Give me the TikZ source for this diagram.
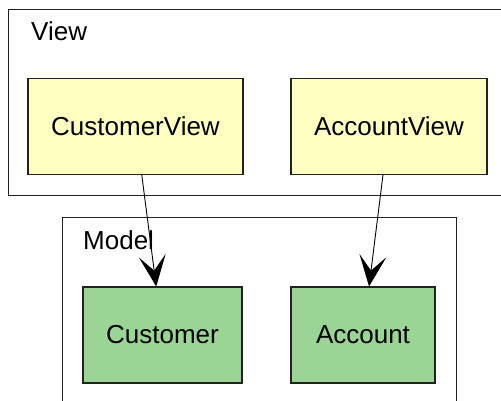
\documentclass[tikz,border=0pt]{standalone}
\usepackage{fontspec}
\setmainfont{Liberation Sans}
\usetikzlibrary{positioning, arrows.meta}

\definecolor{viewfill}{HTML}{FFFFC2}
\definecolor{modelfill}{HTML}{9AD596}
\definecolor{edge}{HTML}{222222}

\begin{document}
\begin{tikzpicture}[x=1pt, y=-1pt, font=\fontsize{26}{31}\selectfont,
    pkg/.style={draw=edge, line width=1.1pt, anchor=north west, inner sep=0pt},
    viewbox/.style={draw=edge, line width=1.1pt, fill=viewfill, minimum height=96pt},
    modelbox/.style={draw=edge, line width=1.1pt, fill=modelfill, minimum height=96pt},
    uses/.style={-{Stealth[length=31pt, width=27pt, inset=15pt]}, line width=0.9pt}]
    \useasboundingbox (0,0) rectangle (501,400);
    \clip (0,0) rectangle (501,400);
    % packages
    \node[pkg, minimum width=520pt, minimum height=186pt] (view) at (8,9) {};
    \node[anchor=base west, inner sep=0pt] (viewlabel) at (31,40) {View};
    \node[pkg, minimum width=394pt, minimum height=200pt] (model) at (62,217) {};
    \node[anchor=base west, inner sep=0pt] (modellabel) at (83,249) {Model};
    % classes
    \node[viewbox, minimum width=215pt] (cv) at (135.5,126.5) {CustomerView};
    \node[viewbox, minimum width=196pt] (av) at (389,126.5) {AccountView};
    \node[modelbox, minimum width=159pt] (c) at (162.5,335) {Customer};
    \node[modelbox, minimum width=144pt] (a) at (363,335) {Account};
    \draw[uses] (cv) -- (c);
    \draw[uses] (av) -- (a);
\end{tikzpicture}
\end{document}
